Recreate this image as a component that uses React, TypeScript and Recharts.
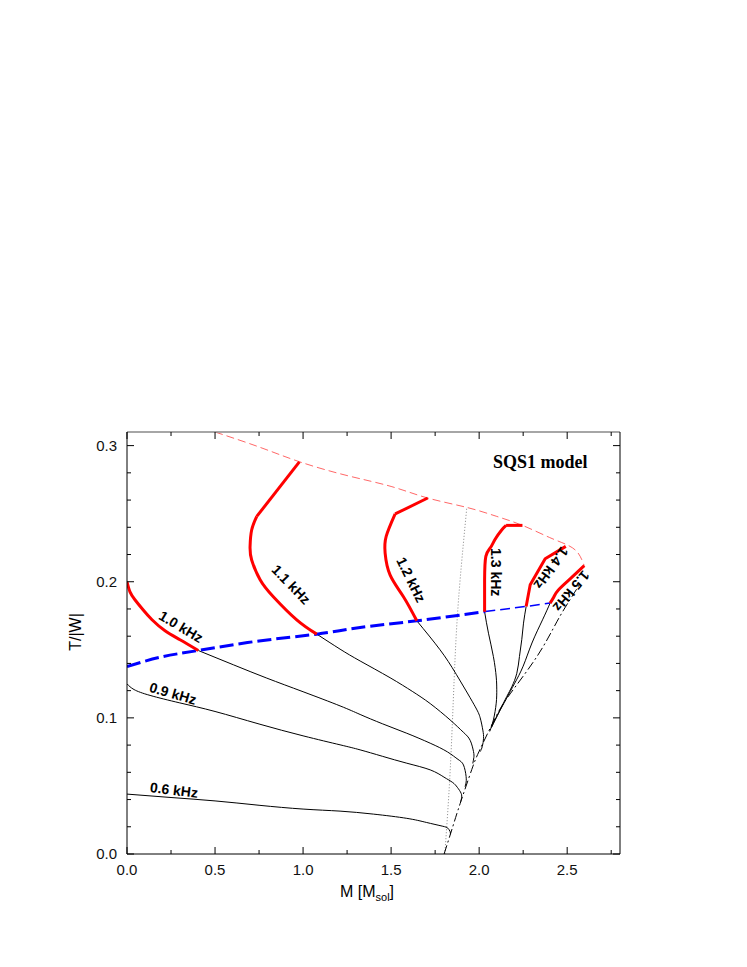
import React from 'react'
import { LineChart, Line, XAxis, YAxis, ReferenceDot } from 'recharts'

// [M, T/|W|] pairs
const massShedding = [[0.5, 0.31], [0.75, 0.299], [0.983, 0.288], [1.25, 0.278], [1.5, 0.27], [1.708, 0.2615], [1.93, 0.2546], [2.1, 0.248], [2.246, 0.2414], [2.4, 0.2325], [2.498, 0.2272], [2.555, 0.2222], [2.583, 0.2162], [2.597, 0.2118]]
const blueThick = [[0, 0.1377], [0.19, 0.1446], [0.405, 0.1495], [0.75, 0.1565], [1.078, 0.1615], [1.324, 0.1664], [1.646, 0.1713], [2.034, 0.1781]]
const blueThin = [[2.034, 0.1781], [2.261, 0.1818], [2.403, 0.1843]]
const dottedLine = [[1.805, 0], [1.835, 0.06], [1.858, 0.128], [1.883, 0.187], [1.93, 0.2546]]
const dashDotLine = [[1.801, 0], [1.85, 0.02], [1.892, 0.037], [1.958, 0.062], [2.0, 0.0755], [2.08, 0.097], [2.167, 0.116], [2.328, 0.145], [2.443, 0.171], [2.517, 0.187], [2.57, 0.198]]

const f06 = [[0, 0.044], [0.25, 0.0415], [0.5, 0.039], [0.75, 0.0358], [1.0, 0.033], [1.21, 0.0315], [1.4, 0.0293], [1.589, 0.0262], [1.7, 0.0232], [1.79, 0.0205], [1.822, 0.019], [1.835, 0.0165], [1.837, 0.0145]]
const f09 = [[0, 0.125], [0.04, 0.1208], [0.131, 0.1165], [0.3, 0.111], [0.5, 0.1047], [0.75, 0.0955], [1.0, 0.0868], [1.21, 0.0802], [1.324, 0.0765], [1.45, 0.0718], [1.589, 0.0667], [1.722, 0.0618], [1.8, 0.0565], [1.85, 0.0525], [1.876, 0.049], [1.898, 0.0445], [1.9, 0.041], [1.895, 0.0384]]
const f10Red = [[0, 0.2], [0.017, 0.1926], [0.045, 0.1868], [0.091, 0.1794], [0.142, 0.1721], [0.216, 0.164], [0.301, 0.1574], [0.405, 0.1495]]
const f10Black = [[0.405, 0.1495], [0.604, 0.139], [0.794, 0.1292], [1.0, 0.1192], [1.21, 0.1088], [1.324, 0.1025], [1.45, 0.0957], [1.589, 0.0887], [1.722, 0.0814], [1.82, 0.075], [1.88, 0.0695], [1.911, 0.0654], [1.926, 0.0569], [1.925, 0.052], [1.92, 0.0495]]
const f11RedTop = [[0.979, 0.288], [0.737, 0.248]]
const f11Red = [[0.737, 0.248], [0.708, 0.238], [0.699, 0.226], [0.708, 0.216], [0.756, 0.2015], [0.831, 0.189], [0.964, 0.172], [1.078, 0.1615]]
const f11Black = [[1.078, 0.1615], [1.21, 0.1505], [1.324, 0.1418], [1.494, 0.1295], [1.62, 0.1195], [1.722, 0.1105], [1.835, 0.0985], [1.91, 0.0895], [1.949, 0.0835], [1.968, 0.0752], [1.97, 0.071], [1.964, 0.0665]]
const f12RedTop = [[1.708, 0.2615], [1.523, 0.2498]]
const f12Red = [[1.523, 0.2498], [1.472, 0.2333], [1.466, 0.221], [1.494, 0.205], [1.57, 0.189], [1.646, 0.1713]]
const f12Black = [[1.646, 0.1713], [1.778, 0.15], [1.87, 0.132], [1.97, 0.11], [2.006, 0.1], [2.021, 0.091], [2.025, 0.085], [2.018, 0.079], [2.006, 0.0752]]
const f13RedTop = [[2.246, 0.2414], [2.153, 0.2414]]
const f13Red = [[2.153, 0.2414], [2.128, 0.238], [2.09, 0.231], [2.063, 0.2248], [2.038, 0.2186], [2.031, 0.2015], [2.031, 0.178]]
const f13Black = [[2.031, 0.178], [2.053, 0.1622], [2.081, 0.145], [2.097, 0.13], [2.1, 0.1206], [2.097, 0.1108], [2.081, 0.0985], [2.06, 0.09]]
const f14Red = [[2.492, 0.226], [2.375, 0.2169], [2.29, 0.1978], [2.267, 0.1818]]
const f14Black = [[2.267, 0.1818], [2.252, 0.1696], [2.242, 0.1574], [2.229, 0.1451], [2.214, 0.1328], [2.186, 0.123], [2.157, 0.1157], [2.119, 0.1059], [2.091, 0.0985], [2.07, 0.093]]
const f15Red = [[2.597, 0.2118], [2.52, 0.2025], [2.45, 0.194], [2.425, 0.189], [2.403, 0.1843]]
const f15Black = [[2.403, 0.1843], [2.36, 0.172], [2.3, 0.155], [2.25, 0.138], [2.2, 0.125], [2.15, 0.113], [2.09, 0.0985], [2.07, 0.093]]

const kHzLabels = [
  { text: '0.6 kHz', m: 0.267, t: 0.047, angle: 7 },
  { text: '0.9 kHz', m: 0.261, t: 0.118, angle: 16 },
  { text: '1.0 kHz', m: 0.307, t: 0.167, angle: 31 },
  { text: '1.1 kHz', m: 0.932, t: 0.198, angle: 46 },
  { text: '1.2 kHz', m: 1.614, t: 0.2015, angle: 64 },
  { text: '1.3 kHz', m: 2.097, t: 0.207, angle: 90 },
  { text: '1.4 kHz', m: 2.409, t: 0.21, angle: 126 },
  { text: '1.5 kHz', m: 2.523, t: 0.193, angle: 130 },
]

const xTicks = [0, 0.25, 0.5, 0.75, 1, 1.25, 1.5, 1.75, 2, 2.25, 2.5, 2.75]
const xMajor = [0, 0.5, 1, 1.5, 2, 2.5]
const yTicks = [0, 0.02, 0.04, 0.06, 0.08, 0.1, 0.12, 0.14, 0.16, 0.18, 0.2, 0.22, 0.24, 0.26, 0.28, 0.3]
const yMajor = [0, 0.1, 0.2, 0.3]

const pts = (a: number[][]) => a.map(([m, t]) => ({ m, t }))

const sans = '"Liberation Sans", Arial, Helvetica, sans-serif'

const W = 731
const H = 940

const BottomTick = (p: any) => {
  const major = xMajor.includes(p.payload.value)
  return (
    <g>
      <line x1={p.x} x2={p.x} y1={p.y} y2={p.y - (major ? 7 : 4)} stroke="#000" />
      {major && (
        <text x={p.x} y={p.y + 21} textAnchor="middle" fontSize={15} fontFamily={sans} fill="#111">
          {p.payload.value.toFixed(1)}
        </text>
      )}
    </g>
  )
}

const TopTick = (p: any) => {
  const major = xMajor.includes(p.payload.value)
  return <line x1={p.x} x2={p.x} y1={p.y} y2={p.y + (major ? 7 : 4)} stroke="#000" />
}

const LeftTick = (p: any) => {
  const major = yMajor.includes(p.payload.value)
  return (
    <g>
      <line x1={p.x} x2={p.x + (major ? 7 : 4)} y1={p.y} y2={p.y} stroke="#000" />
      {major && (
        <text x={p.x - 10} y={p.y + 5} textAnchor="end" fontSize={15} fontFamily={sans} fill="#111">
          {p.payload.value.toFixed(1)}
        </text>
      )}
    </g>
  )
}

const RightTick = (p: any) => {
  const major = yMajor.includes(p.payload.value)
  return <line x1={p.x} x2={p.x - (major ? 7 : 4)} y1={p.y} y2={p.y} stroke="#000" />
}

const rotatedLabel = (text: string, angle: number) => (props: any) => {
  const vb = props.viewBox || {}
  const cx = vb.x + (vb.width || 0) / 2
  const cy = vb.y + (vb.height || 0) / 2
  return (
    <text
      x={cx}
      y={cy}
      textAnchor="middle"
      dominantBaseline="central"
      transform={`rotate(${angle}, ${cx}, ${cy})`}
      fontSize={14}
      fontWeight="bold"
      fontFamily={sans}
      fill="#000"
    >
      {text}
    </text>
  )
}

const thin = (key: string, data: number[][]) => (
  <Line key={key} type="natural" data={pts(data)} dataKey="t" stroke="#000" strokeWidth={1} dot={false} activeDot={false} isAnimationActive={false} />
)
const red = (key: string, data: number[][], curve: 'natural' | 'linear' = 'natural') => (
  <Line key={key} type={curve} data={pts(data)} dataKey="t" stroke="#ff0000" strokeWidth={3} strokeLinejoin="round" dot={false} activeDot={false} isAnimationActive={false} />
)

export default function App() {
  return (
    <div style={{ position: 'relative', width: W, height: H }}>
      <LineChart width={W} height={H} margin={{ top: 423, right: 118, bottom: 44, left: 59 }}>
        <XAxis
          xAxisId={0}
          dataKey="m"
          type="number"
          domain={[0, 2.8]}
          allowDataOverflow
          ticks={xTicks}
          interval={0}
          height={50}
          tickSize={0}
          tickMargin={0}
          tickLine={false}
          axisLine={{ stroke: '#000' }}
          tick={BottomTick}
        />
        <XAxis
          xAxisId="top"
          orientation="top"
          dataKey="m"
          type="number"
          domain={[0, 2.8]}
          allowDataOverflow
          ticks={xTicks}
          interval={0}
          height={1}
          tickSize={0}
          tickMargin={0}
          tickLine={false}
          axisLine={{ stroke: '#888', strokeWidth: 1.5 }}
          tick={TopTick}
        />
        <YAxis
          yAxisId={0}
          type="number"
          domain={[0, 0.31]}
          allowDataOverflow
          ticks={yTicks}
          interval={0}
          width={60}
          tickSize={0}
          tickMargin={0}
          tickLine={false}
          axisLine={{ stroke: '#000' }}
          tick={LeftTick}
        />
        <YAxis
          yAxisId="right"
          orientation="right"
          type="number"
          domain={[0, 0.31]}
          allowDataOverflow
          ticks={yTicks}
          interval={0}
          width={1}
          tickSize={0}
          tickMargin={0}
          tickLine={false}
          axisLine={{ stroke: '#000' }}
          tick={RightTick}
        />

        <Line type="natural" data={pts(massShedding)} dataKey="t" stroke="#ff4040" strokeWidth={0.8} strokeDasharray="8 4" dot={false} activeDot={false} isAnimationActive={false} />
        <Line type="natural" data={pts(dottedLine)} dataKey="t" stroke="#666" strokeWidth={0.8} strokeDasharray="1 2" dot={false} activeDot={false} isAnimationActive={false} />
        <Line type="natural" data={pts(dashDotLine)} dataKey="t" stroke="#000" strokeWidth={1} strokeDasharray="9 3 2 3" dot={false} activeDot={false} isAnimationActive={false} />

        {thin('f06', f06)}
        {thin('f09', f09)}
        {thin('f10b', f10Black)}
        {thin('f11b', f11Black)}
        {thin('f12b', f12Black)}
        {thin('f13b', f13Black)}
        {thin('f14b', f14Black)}
        {thin('f15b', f15Black)}

        <Line type="natural" data={pts(blueThick)} dataKey="t" stroke="#0000ff" strokeWidth={3} strokeDasharray="14 5" dot={false} activeDot={false} isAnimationActive={false} />
        <Line type="natural" data={pts(blueThin)} dataKey="t" stroke="#0000ff" strokeWidth={1.5} strokeDasharray="10 5" dot={false} activeDot={false} isAnimationActive={false} />

        {red('f10r', f10Red)}
        {red('f11t', f11RedTop, 'linear')}
        {red('f11r', f11Red)}
        {red('f12t', f12RedTop, 'linear')}
        {red('f12r', f12Red)}
        {red('f13t', f13RedTop, 'linear')}
        {red('f13r', f13Red)}
        {red('f14r', f14Red, 'linear')}
        {red('f15r', f15Red)}

        {kHzLabels.map(l => (
          <ReferenceDot key={l.text} x={l.m} y={l.t} r={0.5} fill="none" stroke="none" label={rotatedLabel(l.text, l.angle)} />
        ))}
      </LineChart>
      <svg width={W} height={H} style={{ position: 'absolute', left: 0, top: 0, pointerEvents: 'none' }}>
        <text x={485} y={460} fontFamily='"Liberation Serif", "Times New Roman", serif' fontWeight="bold" fontSize={18} fill="#000">
          SQS1 model
        </text>
        <text x={332} y={889} fontFamily={sans} fontSize={16} fill="#000">
          M [M<tspan fontSize={11} dy={4}>sol</tspan><tspan dy={-4}>]</tspan>
        </text>
        <text x={67} y={624} fontFamily={sans} fontSize={16} fill="#000" textAnchor="middle" dominantBaseline="central" transform="rotate(-90, 67, 624)">
          T/|W|
        </text>
      </svg>
    </div>
  )
}
